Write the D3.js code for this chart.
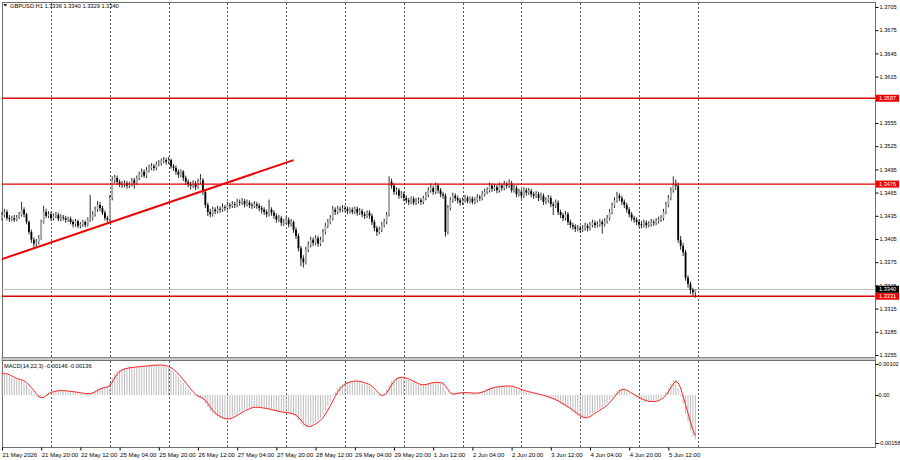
<!DOCTYPE html>
<html><head><meta charset="utf-8">
<script src="https://cdn.jsdelivr.net/npm/d3@7/dist/d3.min.js"></script>
<style>body{margin:0;background:#fff}svg{display:block}text{font-family:"Liberation Sans",Arial,sans-serif}</style>
</head><body><svg id="c" width="900" height="460"></svg>
<script>
// ---------- DATA ----------
const symbolTitle = "GBPUSD.H1 1.3336 1.3340 1.3329 1.3340";
const macdTitle = "MACD(14,22,3) -0.00146 -0.00136";
const firstOpen = 1.3432;
const closes = [
1.3436,1.3440,1.3432,1.3431,1.3432,1.3430,1.3433,1.3436,1.3443,1.3437,
1.3427,1.3414,1.3404,1.3399,1.3401,1.3406,1.3427,1.3440,1.3435,1.3437,
1.3432,1.3435,1.3436,1.3431,1.3433,1.3432,1.3430,1.3431,1.3427,1.3424,
1.3428,1.3422,1.3424,1.3427,1.3423,1.3430,1.3432,1.3437,1.3443,1.3449,
1.3445,1.3439,1.3432,1.3430,1.3458,1.3481,1.3484,1.3479,1.3476,1.3475,
1.3477,1.3474,1.3476,1.3481,1.3477,1.3484,1.3488,1.3492,1.3487,1.3494,
1.3497,1.3499,1.3497,1.3502,1.3503,1.3506,1.3507,1.3505,1.3507,1.3499,
1.3497,1.3492,1.3488,1.3492,1.3484,1.3479,1.3476,1.3474,1.3477,1.3472,
1.3479,1.3481,1.3466,1.3449,1.3440,1.3437,1.3443,1.3441,1.3444,1.3443,
1.3446,1.3445,1.3449,1.3448,1.3450,1.3449,1.3453,1.3452,1.3454,1.3450,
1.3452,1.3449,1.3448,1.3450,1.3448,1.3445,1.3443,1.3440,1.3437,1.3443,
1.3439,1.3435,1.3430,1.3432,1.3426,1.3427,1.3430,1.3424,1.3427,1.3417,
1.3409,1.3393,1.3380,1.3375,1.3391,1.3397,1.3404,1.3400,1.3406,1.3399,
1.3404,1.3414,1.3422,1.3427,1.3432,1.3443,1.3440,1.3444,1.3443,1.3445,
1.3444,1.3441,1.3443,1.3440,1.3444,1.3439,1.3441,1.3437,1.3435,1.3439,
1.3435,1.3427,1.3419,1.3414,1.3417,1.3423,1.3427,1.3436,1.3479,1.3474,
1.3466,1.3468,1.3461,1.3463,1.3458,1.3455,1.3453,1.3457,1.3452,1.3454,
1.3455,1.3453,1.3458,1.3462,1.3468,1.3471,1.3466,1.3474,1.3468,1.3463,
1.3461,1.3414,1.3445,1.3455,1.3461,1.3458,1.3455,1.3452,1.3455,1.3458,
1.3454,1.3457,1.3453,1.3455,1.3459,1.3458,1.3463,1.3466,1.3468,1.3474,
1.3470,1.3472,1.3468,1.3474,1.3471,1.3476,1.3474,1.3477,1.3468,1.3471,
1.3463,1.3466,1.3461,1.3468,1.3465,1.3467,1.3463,1.3461,1.3463,1.3458,
1.3461,1.3453,1.3455,1.3458,1.3450,1.3448,1.3452,1.3440,1.3436,1.3432,
1.3437,1.3427,1.3423,1.3421,1.3418,1.3419,1.3417,1.3419,1.3422,1.3419,
1.3423,1.3426,1.3423,1.3424,1.3427,1.3424,1.3428,1.3432,1.3440,1.3448,
1.3455,1.3461,1.3458,1.3453,1.3449,1.3443,1.3437,1.3432,1.3430,1.3427,
1.3424,1.3423,1.3426,1.3423,1.3424,1.3427,1.3426,1.3428,1.3430,1.3432,
1.3440,1.3449,1.3458,1.3468,1.3476,1.3474,1.3404,1.3396,1.3388,1.3355,
1.3347,1.3339,1.3336,1.3340];
const highs = [
1.3440,1.3444,1.3443,1.3436,1.3435,1.3436,1.3436,1.3440,1.3453,1.3446,
1.3439,1.3429,1.3417,1.3407,1.3405,1.3410,1.3430,1.3448,1.3444,1.3441,
1.3440,1.3438,1.3440,1.3439,1.3437,1.3436,1.3435,1.3434,1.3434,1.3430,
1.3431,1.3430,1.3427,1.3430,1.3429,1.3433,1.3462,1.3441,1.3447,1.3454,
1.3453,1.3448,1.3442,1.3435,1.3462,1.3486,1.3488,1.3487,1.3482,1.3480,
1.3481,1.3480,1.3479,1.3484,1.3484,1.3487,1.3492,1.3496,1.3495,1.3498,
1.3501,1.3503,1.3502,1.3505,1.3507,1.3509,1.3511,1.3510,1.3511,1.3509,
1.3502,1.3500,1.3495,1.3495,1.3494,1.3487,1.3482,1.3479,1.3481,1.3480,
1.3483,1.3489,1.3484,1.3468,1.3452,1.3444,1.3447,1.3446,1.3448,1.3447,
1.3451,1.3449,1.3453,1.3452,1.3454,1.3453,1.3457,1.3456,1.3458,1.3457,
1.3456,1.3455,1.3452,1.3454,1.3453,1.3451,1.3448,1.3446,1.3443,1.3456,
1.3446,1.3442,1.3438,1.3436,1.3435,1.3431,1.3434,1.3433,1.3431,1.3429,
1.3420,1.3412,1.3396,1.3384,1.3395,1.3402,1.3408,1.3407,1.3410,1.3409,
1.3408,1.3418,1.3426,1.3431,1.3436,1.3448,1.3446,1.3448,1.3447,1.3449,
1.3448,1.3447,1.3446,1.3446,1.3447,1.3447,1.3445,1.3444,1.3440,1.3442,
1.3442,1.3438,1.3430,1.3422,1.3421,1.3427,1.3431,1.3440,1.3486,1.3483,
1.3477,1.3472,1.3471,1.3467,1.3466,1.3461,1.3458,1.3460,1.3460,1.3458,
1.3459,1.3458,1.3461,1.3466,1.3472,1.3477,1.3474,1.3478,1.3477,1.3471,
1.3466,1.3464,1.3449,1.3459,1.3465,1.3464,1.3461,1.3458,1.3459,1.3462,
1.3461,1.3460,1.3460,1.3459,1.3463,1.3462,1.3467,1.3470,1.3472,1.3478,
1.3477,1.3476,1.3475,1.3478,1.3477,1.3480,1.3479,1.3482,1.3480,1.3475,
1.3474,1.3470,1.3469,1.3472,1.3471,1.3471,1.3470,1.3466,1.3467,1.3466,
1.3465,1.3464,1.3459,1.3462,1.3461,1.3453,1.3456,1.3455,1.3443,1.3439,
1.3441,1.3440,1.3430,1.3426,1.3424,1.3423,1.3422,1.3423,1.3426,1.3425,
1.3427,1.3430,1.3429,1.3428,1.3431,1.3430,1.3432,1.3436,1.3444,1.3452,
1.3459,1.3466,1.3464,1.3461,1.3456,1.3452,1.3446,1.3440,1.3435,1.3433,
1.3430,1.3428,1.3430,1.3429,1.3428,1.3431,1.3430,1.3432,1.3434,1.3436,
1.3444,1.3453,1.3462,1.3472,1.3486,1.3482,1.3478,1.3409,1.3400,1.3391,
1.3358,1.3350,1.3342,1.3340];
const lows = [
1.3429,1.3433,1.3429,1.3427,1.3428,1.3427,1.3428,1.3431,1.3434,1.3433,
1.3424,1.3411,1.3400,1.3393,1.3395,1.3398,1.3404,1.3425,1.3432,1.3432,
1.3429,1.3429,1.3432,1.3428,1.3428,1.3429,1.3426,1.3427,1.3424,1.3420,
1.3421,1.3419,1.3419,1.3421,1.3420,1.3421,1.3427,1.3429,1.3434,1.3440,
1.3441,1.3436,1.3429,1.3426,1.3428,1.3455,1.3477,1.3475,1.3472,1.3471,
1.3472,1.3470,1.3471,1.3473,1.3470,1.3475,1.3481,1.3485,1.3484,1.3484,
1.3491,1.3494,1.3493,1.3494,1.3499,1.3500,1.3503,1.3501,1.3502,1.3496,
1.3493,1.3488,1.3484,1.3485,1.3480,1.3475,1.3472,1.3469,1.3471,1.3468,
1.3470,1.3476,1.3462,1.3445,1.3435,1.3433,1.3434,1.3437,1.3438,1.3439,
1.3440,1.3441,1.3442,1.3444,1.3445,1.3445,1.3446,1.3448,1.3449,1.3446,
1.3447,1.3445,1.3444,1.3445,1.3444,1.3441,1.3438,1.3436,1.3433,1.3434,
1.3435,1.3431,1.3426,1.3427,1.3422,1.3422,1.3424,1.3420,1.3421,1.3413,
1.3405,1.3389,1.3370,1.3368,1.3372,1.3388,1.3394,1.3396,1.3397,1.3395,
1.3396,1.3401,1.3411,1.3419,1.3424,1.3429,1.3436,1.3437,1.3439,1.3440,
1.3440,1.3437,1.3438,1.3437,1.3437,1.3435,1.3436,1.3433,1.3431,1.3432,
1.3431,1.3423,1.3415,1.3409,1.3411,1.3414,1.3420,1.3424,1.3434,1.3470,
1.3462,1.3462,1.3457,1.3458,1.3454,1.3451,1.3449,1.3450,1.3449,1.3449,
1.3451,1.3449,1.3450,1.3455,1.3459,1.3465,1.3462,1.3463,1.3464,1.3459,
1.3457,1.3408,1.3411,1.3442,1.3452,1.3454,1.3451,1.3448,1.3449,1.3452,
1.3451,1.3451,1.3450,1.3450,1.3452,1.3454,1.3455,1.3460,1.3463,1.3465,
1.3466,1.3467,1.3464,1.3465,1.3467,1.3468,1.3470,1.3471,1.3465,1.3465,
1.3459,1.3460,1.3457,1.3458,1.3461,1.3462,1.3459,1.3457,1.3458,1.3454,
1.3455,1.3449,1.3450,1.3452,1.3446,1.3436,1.3445,1.3436,1.3432,1.3428,
1.3429,1.3423,1.3419,1.3417,1.3414,1.3415,1.3413,1.3414,1.3416,1.3415,
1.3416,1.3420,1.3419,1.3420,1.3421,1.3412,1.3421,1.3425,1.3429,1.3437,
1.3445,1.3452,1.3454,1.3449,1.3445,1.3439,1.3433,1.3428,1.3426,1.3423,
1.3420,1.3419,1.3420,1.3419,1.3420,1.3421,1.3422,1.3423,1.3425,1.3427,
1.3429,1.3437,1.3446,1.3455,1.3465,1.3468,1.3400,1.3391,1.3383,1.3351,
1.3342,1.3334,1.3330,1.3329];
const macdMain = [
0.00072,0.00070,0.00067,0.00063,0.00058,0.00054,0.00052,0.00050,0.00047,0.00042,
0.00034,0.00024,0.00014,0.00004,-0.00005,-0.00012,-0.00010,-0.00002,0.00005,0.00009,
0.00011,0.00013,0.00014,0.00015,0.00015,0.00014,0.00013,0.00012,0.00011,0.00010,
0.00009,0.00007,0.00006,0.00005,0.00004,0.00004,0.00006,0.00010,0.00015,0.00020,
0.00023,0.00025,0.00026,0.00028,0.00040,0.00058,0.00070,0.00078,0.00083,0.00086,
0.00088,0.00089,0.00090,0.00092,0.00092,0.00093,0.00094,0.00095,0.00095,0.00096,
0.00097,0.00098,0.00098,0.00099,0.00099,0.00098,0.00097,0.00094,0.00090,0.00085,
0.00078,0.00070,0.00060,0.00050,0.00040,0.00030,0.00020,0.00010,0.00002,-0.00004,
-0.00008,-0.00010,-0.00016,-0.00028,-0.00040,-0.00052,-0.00060,-0.00066,-0.00071,-0.00075,
-0.00078,-0.00080,-0.00079,-0.00076,-0.00072,-0.00067,-0.00062,-0.00057,-0.00053,-0.00049,
-0.00045,-0.00042,-0.00040,-0.00040,-0.00041,-0.00042,-0.00043,-0.00044,-0.00046,-0.00048,
-0.00050,-0.00052,-0.00054,-0.00056,-0.00057,-0.00058,-0.00059,-0.00060,-0.00062,-0.00066,
-0.00072,-0.00082,-0.00094,-0.00102,-0.00106,-0.00104,-0.00100,-0.00095,-0.00090,-0.00084,
-0.00076,-0.00064,-0.00050,-0.00036,-0.00020,-0.00004,0.00010,0.00022,0.00030,0.00036,
0.00040,0.00043,0.00045,0.00046,0.00046,0.00045,0.00043,0.00041,0.00038,0.00035,
0.00030,0.00022,0.00012,0.00002,-0.00004,-0.00002,0.00006,0.00018,0.00034,0.00046,
0.00054,0.00058,0.00059,0.00058,0.00056,0.00053,0.00049,0.00045,0.00041,0.00037,
0.00034,0.00033,0.00034,0.00036,0.00039,0.00041,0.00042,0.00042,0.00041,0.00039,
0.00036,0.00014,0.00004,0.00002,0.00004,0.00006,0.00007,0.00008,0.00008,0.00008,
0.00007,0.00007,0.00006,0.00006,0.00007,0.00009,0.00012,0.00016,0.00020,0.00023,
0.00025,0.00026,0.00027,0.00028,0.00029,0.00030,0.00030,0.00029,0.00027,0.00025,
0.00022,0.00018,0.00015,0.00013,0.00011,0.00009,0.00007,0.00005,0.00003,0.00001,
-0.00001,-0.00003,-0.00006,-0.00009,-0.00012,-0.00015,-0.00019,-0.00024,-0.00029,-0.00034,
-0.00038,-0.00044,-0.00050,-0.00056,-0.00062,-0.00068,-0.00073,-0.00076,-0.00076,-0.00072,
-0.00066,-0.00060,-0.00055,-0.00050,-0.00045,-0.00040,-0.00034,-0.00026,-0.00016,-0.00006,
0.00004,0.00014,0.00020,0.00020,0.00016,0.00011,0.00006,0.00001,-0.00003,-0.00008,
-0.00012,-0.00016,-0.00019,-0.00021,-0.00022,-0.00022,-0.00021,-0.00019,-0.00015,-0.00010,
-0.00002,0.00010,0.00024,0.00038,0.00048,0.00050,0.00022,-0.00004,-0.00030,-0.00062,
-0.00088,-0.00118,-0.00138,-0.00146];
const signalPeriod = 3;
const priceTicks = [1.3705,1.3675,1.3645,1.3615,1.3555,1.3525,1.3495,1.3465,1.3435,1.3405,1.3375,1.3345,1.3315,1.3285,1.3255];
const priceDomain = [1.3255, 1.3705];
const levels = [1.3587, 1.3476, 1.3331];
const currentPrice = 1.3340;
const trendLine = [{bar: 0, price: 1.3379}, {bar: 119, price: 1.3507}];
const macdTicks = [0.00102, 0.00, -0.00158];
const macdDomain = [-0.00158, 0.00102];
const timeLabels = ["21 May 2026","21 May 20:00","22 May 12:00","25 May 04:00","25 May 20:00","26 May 12:00","27 May 04:00","27 May 20:00","28 May 12:00","29 May 04:00","29 May 20:00","1 Jun 12:00","2 Jun 04:00","2 Jun 20:00","3 Jun 12:00","4 Jun 04:00","4 Jun 20:00","5 Jun 12:00"];
const timeLabelBars = [0,16,32,48,64,80,96,112,128,144,160,176,192,208,224,240,256,272];
const dayStartBars = [20,44,68,92,116,140,164,188,212,236,260,284];

// ---------- LAYOUT ----------
const L = 2, R = 875, T = 2, MB = 357, MT = 360, BB = 447;
const svg = d3.select("#c");
const n = closes.length;
const opens = closes.map((c, i) => i === 0 ? firstOpen : closes[i - 1]);
const signal = macdMain.map((v, i) => d3.mean(macdMain.slice(Math.max(0, i - signalPeriod + 1), i + 1)));

const x = d3.scaleLinear().domain([0, 283]).range([2, 695.35]);
const y = d3.scaleLinear().domain(priceDomain).range([355, 7]);
const ym = d3.scaleLinear().domain(macdDomain).range([443, 364]);

// frames
svg.append("rect").attr("x", L + 0.5).attr("y", T + 0.5).attr("width", R - L).attr("height", MB - T)
  .attr("fill", "none").attr("stroke", "#6e6e6e");
svg.append("rect").attr("x", L).attr("y", MB + 0.5).attr("width", R - L + 0.5).attr("height", MT - MB)
  .attr("fill", "#c8c8c8").attr("stroke", "#8a8a8a");
svg.append("rect").attr("x", L + 0.5).attr("y", MT + 0.5).attr("width", R - L).attr("height", BB - MT)
  .attr("fill", "none").attr("stroke", "#6e6e6e");

// vertical dashed grid
const grid = svg.append("g");
dayStartBars.forEach(b => {
  const gx = Math.round(x(b)) + 0.5;
  [[T + 1, MB], [MT + 1, BB]].forEach(([a, bb]) => {
    grid.append("line").attr("x1", gx).attr("x2", gx).attr("y1", a).attr("y2", bb)
      .attr("stroke", "#555").attr("stroke-width", 1).attr("stroke-dasharray", "2,2");
  });
});

// current price line
svg.append("line").attr("x1", L).attr("x2", R).attr("y1", Math.round(y(currentPrice)) + 0.5).attr("y2", Math.round(y(currentPrice)) + 0.5)
  .attr("stroke", "#c0c0c0");

// candles
const cg = svg.append("g");
const bw = 1.8;
for (let i = 0; i < n; i++) {
  const cx = x(i);
  const o = opens[i], c = closes[i];
  const bull = c >= o;
  cg.append("line").attr("x1", cx).attr("x2", cx).attr("y1", y(highs[i])).attr("y2", y(lows[i]))
    .attr("stroke", "#111").attr("stroke-width", 0.9);
  const top = y(Math.max(o, c)), bot = y(Math.min(o, c));
  cg.append("rect").attr("x", cx - bw / 2).attr("y", top).attr("width", bw).attr("height", Math.max(0.8, bot - top))
    .attr("fill", bull ? "#aaaaaa" : "#000");
}

// level lines
levels.forEach(lv => {
  svg.append("line").attr("x1", L).attr("x2", R).attr("y1", y(lv)).attr("y2", y(lv))
    .attr("stroke", "#e00000").attr("stroke-width", 1.4);
});
// trend line
svg.append("line")
  .attr("x1", x(trendLine[0].bar)).attr("y1", y(trendLine[0].price))
  .attr("x2", x(trendLine[1].bar)).attr("y2", y(trendLine[1].price))
  .attr("stroke", "#f00000").attr("stroke-width", 2);

// MACD histogram
const hg = svg.append("g");
for (let i = 0; i < n; i++) {
  hg.append("line").attr("x1", x(i)).attr("x2", x(i)).attr("y1", ym(0)).attr("y2", ym(macdMain[i]))
    .attr("stroke", "#bdbdbd").attr("stroke-width", 1);
}
svg.append("path").datum(signal)
  .attr("d", d3.line().x((d, i) => x(i)).y(d => ym(d)))
  .attr("fill", "none").attr("stroke", "#ff2020").attr("stroke-width", 1);

// right price axis
const pAxis = d3.axisRight(y).tickValues(priceTicks).tickFormat(d3.format(".4f")).tickSize(3).tickSizeOuter(0);
const pa = svg.append("g").attr("transform", `translate(${R + 0.5},0)`).call(pAxis);
pa.select(".domain").remove();
pa.selectAll("text").attr("x", 4).style("font-size", "5.6px").attr("fill", "#000");
pa.selectAll("line").attr("stroke", "#000");

// level labels
function tag(val, bg) {
  const yy = y(val);
  svg.append("rect").attr("x", R + 1).attr("y", yy - 3.5).attr("width", 23).attr("height", 7).attr("fill", bg);
  svg.append("text").attr("x", R + 4).attr("y", yy + 2).text(d3.format(".4f")(val))
    .style("font-size", "5.6px").attr("fill", "#fff");
}
levels.forEach(lv => tag(lv, "#f00000"));
tag(currentPrice, "#000");

// MACD axis
const mAxis = d3.axisRight(ym).tickValues(macdTicks).tickFormat(d => d === 0 ? "0.00" : d3.format(".5f")(d)).tickSize(3).tickSizeOuter(0);
const ma = svg.append("g").attr("transform", `translate(${R + 0.5},0)`).call(mAxis);
ma.select(".domain").remove();
ma.selectAll("text").attr("x", d => d < 0 ? 1.5 : 3).style("font-size", "5.6px").attr("fill", "#000");
ma.selectAll("line").attr("stroke", "#000");

// time axis
const tAxis = d3.axisBottom(x).tickValues(timeLabelBars).tickFormat((d, i) => timeLabels[i]).tickSize(3).tickSizeOuter(0);
const ta = svg.append("g").attr("transform", `translate(0,${BB + 0.5})`).call(tAxis);
ta.select(".domain").remove();
ta.selectAll("text").attr("text-anchor", "start").attr("x", 0).attr("y", 5).attr("dy", "0.71em")
  .style("font-size", "6px").attr("fill", "#000");
ta.selectAll("line").attr("stroke", "#000");

// titles
svg.append("path").attr("d", "M3.5,4 L7,4 L5.25,6.5 Z").attr("fill", "#000");
svg.append("text").attr("x", 10).attr("y", 8).text(symbolTitle).style("font-size", "5.7px").attr("fill", "#000");
svg.append("text").attr("x", 4).attr("y", 367.5).text(macdTitle).style("font-size", "5.7px").attr("fill", "#000");
</script></body></html>
